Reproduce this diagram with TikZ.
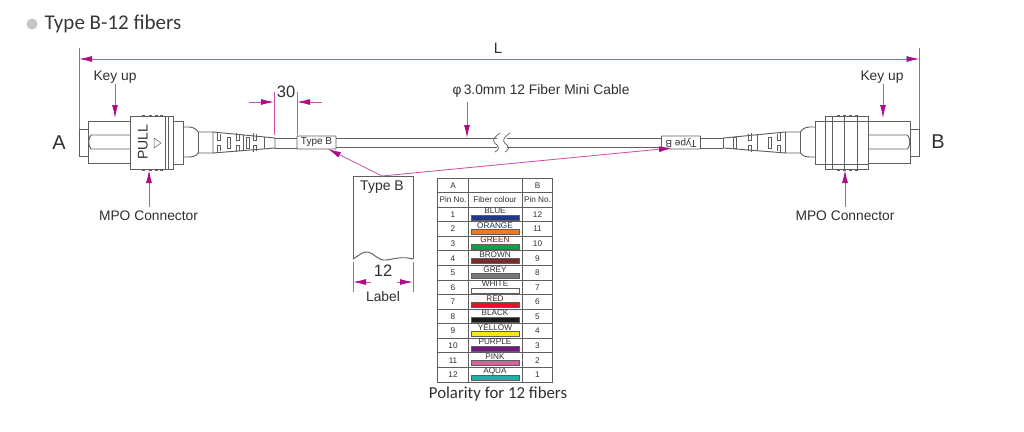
\documentclass[tikz,border=0pt]{standalone}
\usepackage{fontspec}
\setmainfont{Liberation Sans}
\newfontfamily\titlefont{Carlito}
\usetikzlibrary{arrows.meta}
\definecolor{wirecol}{HTML}{625D5D}
\definecolor{dimcol}{HTML}{D24FA8}
\definecolor{tipcol}{HTML}{B00A88}
\definecolor{textcol}{HTML}{2F2F2F}
\newcommand{\fsz}[1]{\fontsize{#1}{#1}\selectfont}
\tikzstyle{every node}=[inner sep=0pt,text=textcol]
\tikzstyle{wire}=[draw=wirecol,line width=0.95pt]
\tikzstyle{dimline}=[draw=dimcol,line width=0.85pt]
\tikzstyle{dimarrow}=[dimline,-{Latex[length=13pt,width=6pt,color=tipcol]}]
\tikzstyle{callout}=[font=\fsz{13.8}]
\tikzstyle{sleeve}=[wire,fill=white,font=\fsz{10},minimum width=39pt,minimum height=13pt,rounded corners=0.5pt]
\tikzstyle{cell}=[font=\fsz{8.2}]
% common part of both plugs, drawn from the cap towards the cable
\newcommand{\mpoplug}{
\draw[wire] (0,50) rectangle (9,77);
\draw[wire] (9,42.5) rectangle (51,84);
\draw[wire] (51,56) -- (12,56) .. controls (9,59) and (9,67) .. (12,70) -- (51,70);
\draw[wire] (51,37.5) rectangle (94,90);
\draw[wire] (94,42) rectangle (104,85);
\draw[wire] (104,48) -- (110,48) .. controls (115,48) and (118,51) .. (119,53) -- (134,53)
	-- (134,74) -- (119,74) .. controls (118,76) and (115,78) .. (110,78) -- (104,78);
\draw[wire] (119,53) -- (119,74);
\draw[wire] (134,53) -- (196,59) -- (196,69) -- (134,74);
}
\begin{document}
\begin{tikzpicture}[x=1pt,y=-1pt]
\useasboundingbox (0,0) rectangle (1024,431);
% heading
\fill[black!22] (32,24) circle (5.5);
\node[anchor=west,font=\titlefont\fsz{21},text=black!78] (heading) at (44.5,24) {Type B-12 fibers};
% left plug
\begin{scope}[xshift=79pt,yshift=-79pt]
\mpoplug
\end{scope}
\draw[wire] (165,117) -- (165,169) (168,117) -- (168,169);
\foreach \x in {143,150,156,161} {
	\draw[wire,line width=0.6pt] (\x-1,116.5) -- (\x-1,115) -- (\x+1,115) -- (\x+1,116.5);
	\draw[wire,line width=0.6pt] (\x-1,169) -- (\x-1,170.5) -- (\x+1,170.5) -- (\x+1,169);
}
\node[rotate=90,font=\fsz{14}] (pull) at (143,142) {PULL};
\draw[wire,line width=0.5pt] (154,138) -- (161,143) -- (154,148) -- cycle;
\foreach \x in {217,236,253} {
	\draw[wire,line width=0.7pt] (\x,133) -- (\x,140) -- (\x+3.5,140) -- (\x+3.5,134);
	\draw[wire,line width=0.7pt] (\x,152) -- (\x,145) -- (\x+3.5,145) -- (\x+3.5,151);
}
\foreach \x in {227,246} \draw[wire,line width=0.7pt] (\x,137) rectangle (\x+3,148);
\draw[wire,line width=0.7pt] (243,135) -- (243,150) (264,137) -- (264,149);
% right plug
\begin{scope}[xshift=919.5pt,xscale=-1,yshift=-79pt]
\mpoplug
\end{scope}
\draw[wire] (832,116) -- (832,169) (844,116) -- (844,169) (857,116) -- (857,169);
\draw[wire] (826,121) -- (869,121) (826,164) -- (869,164);
\foreach \x in {838,844,850,856} {
	\draw[wire,line width=0.6pt] (\x-1,116.5) -- (\x-1,115) -- (\x+1,115) -- (\x+1,116.5);
	\draw[wire,line width=0.6pt] (\x-1,169) -- (\x-1,170.5) -- (\x+1,170.5) -- (\x+1,169);
}
\foreach \x in {748,777} {
	\draw[wire,line width=0.7pt] (\x,134) -- (\x,140) -- (\x+3.5,140) -- (\x+3.5,133);
	\draw[wire,line width=0.7pt] (\x,151) -- (\x,145) -- (\x+3.5,145) -- (\x+3.5,152);
}
\foreach \x in {733,768} \draw[wire,line width=0.7pt] (\x,137) rectangle (\x+3,148);
\draw[wire,line width=0.7pt] (757,135) -- (757,150);
% cable with its break
\node[sleeve] (sleevea) at (316.5,142.5) {Type B};
\node[sleeve,rotate=180] (sleeveb) at (681,142.5) {Type B};
\coordinate (breaka) at (497,138.5);
\coordinate (breakb) at (507,138.5);
\draw[wire] (275,138.5) -- (sleevea.west |- 0,138.5) (275,148) -- (sleevea.west |- 0,148);
\draw[wire] (sleevea.east |- 0,138.5) -- (breaka) (sleevea.east |- 0,147.5) -- (497,147.5);
\draw[wire] (breakb) -- (sleeveb.east |- 0,138.5) (507,147.5) -- (sleeveb.east |- 0,147.5);
\draw[wire] (sleeveb.west |- 0,138.5) -- (723,138.5) (sleeveb.west |- 0,148) -- (723,148);
\fill[white] (497,136) rectangle (507,150);
\draw[wire,line width=0.7pt] (500,133) .. controls (490,140) and (494,143) .. (497,145) .. controls (500,148) and (498,150) .. (495,152);
\draw[wire,line width=0.7pt] (510,133) .. controls (500,140) and (504,143) .. (507,145) .. controls (510,148) and (508,150) .. (505,152);
% overall length
\coordinate (enda) at (79,129);
\coordinate (endb) at (919.5,129);
\coordinate (lena) at (79,59);
\coordinate (lenb) at (919.5,59);
\node[font=\fsz{15}] (lenlabel) at (498,48) {L};
\draw[dimline] (79,48) -- (enda);
\draw[dimline] (919.5,48) -- (endb);
\coordinate (lenmid) at (498,59);
\draw[dimarrow] (lenmid) -- (lena);
\draw[dimarrow] (lenmid) -- (lenb);
% A and B
\node[font=\fsz{20}] (enda label) at (59,143) {A};
\node[font=\fsz{20}] (endb label) at (938,142) {B};
% callouts
\node[callout] (keyupa) at (115,77) {Key up};
\node[callout] (keyupb) at (882,77) {Key up};
\node[callout] (mpoa) at (148.5,216) {MPO Connector};
\node[callout] (mpob) at (845,216) {MPO Connector};
\node[callout] (cablelabel) at (541,91) {φ\,3.0mm 12 Fiber Mini Cable};
\coordinate (keyupatip) at (115,118);
\coordinate (keyupbtip) at (883,118);
\coordinate (mpoatip) at (149,170);
\coordinate (mpobtip) at (845,170);
\coordinate (cabletip) at (467,138);
\draw[dimarrow] (115,84) -- (keyupatip);
\draw[dimarrow] (883,84) -- (keyupbtip);
\draw[dimarrow] (149,207) -- (mpoatip);
\draw[dimarrow] (845,207) -- (mpobtip);
\draw[dimarrow] (467,102) -- (cabletip);
% 30 mark
\node[font=\fsz{16.5}] (thirty) at (286,92) {30};
\draw[dimline] (274,92) -- (274,135) (297,92) -- (297,135);
\coordinate (thirtya) at (274,102);
\coordinate (thirtyb) at (297,102);
\draw[dimarrow] (249,102) -- (thirtya);
\draw[dimarrow] (322,102) -- (thirtyb);
% label
\coordinate (flagtop) at (382,176);
\draw[wire] (353,259) -- (353,176) -- (413,176) -- (413,259);
\draw[wire] (353,259) .. controls (360,255) and (363,251) .. (368,252) .. controls (374,253) and (378,261) .. (386,260)
	.. controls (394,259) and (402,256) .. (413,259);
\node[font=\fsz{14}] (flagtext) at (382,187) {Type B};
\node[font=\fsz{16.5}] (flagwidth) at (383,271) {12};
\node[callout] (flagname) at (383,297) {Label};
\draw[dimline] (353,262) -- (353,292) (413,262) -- (413,292);
\coordinate (flagdima) at (353,282);
\coordinate (flagdimb) at (413,282);
\draw[dimarrow] (371,282) -- (flagdima);
\draw[dimarrow] (397,282) -- (flagdimb);
\draw[dimarrow] (flagtop) -- (328,149);
\draw[dimarrow] (flagtop) -- (672,148);
% polarity table
\draw[wire] (437.5,178) rectangle (552.7,382);
\draw[wire] (468,178) -- (468,382) (522.6,178) -- (522.6,382);
\foreach \r in {1,...,13} \draw[wire] (437.5,178+14.57*\r) -- (552.7,178+14.57*\r);
\node[cell] (heada) at (453,185.3) {A};
\node[cell] (headb) at (537.5,185.3) {B};
\node[cell] (pina) at (453,200) {Pin No.};
\node[cell] (fibre) at (495,200) {Fiber colour};
\node[cell] (pinb) at (537.5,200) {Pin No.};
\foreach \nm/\col/\pb [count=\r] in {BLUE/1F3A8C/12,ORANGE/F07820/11,GREEN/0FA04A/10,BROWN/7A2A2A/9,GREY/787878/8,
	WHITE/FFFFFF/7,RED/E8102A/6,BLACK/1A1A1A/5,YELLOW/F8E810/4,PURPLE/701880/3,PINK/D8609C/2,AQUA/20B0A8/1} {
	\pgfmathsetmacro{\rowy}{207+14.57*(\r-1)}
	\node[cell] (pina\r) at (453,\rowy+7.5) {\r};
	\node[cell] (pinb\r) at (537.5,\rowy+7.5) {\pb};
	\node[cell] (fibre\r) at (495,\rowy+4) {\nm};
	\definecolor{barcol}{HTML}{\col}
	\draw[wire,fill=barcol,line width=0.6pt] (471.7,\rowy+8) rectangle (519,\rowy+13);
}
\node[font=\titlefont\fsz{16.8}] (polarity) at (498,394) {Polarity for 12 fibers};
\end{tikzpicture}
\end{document}
